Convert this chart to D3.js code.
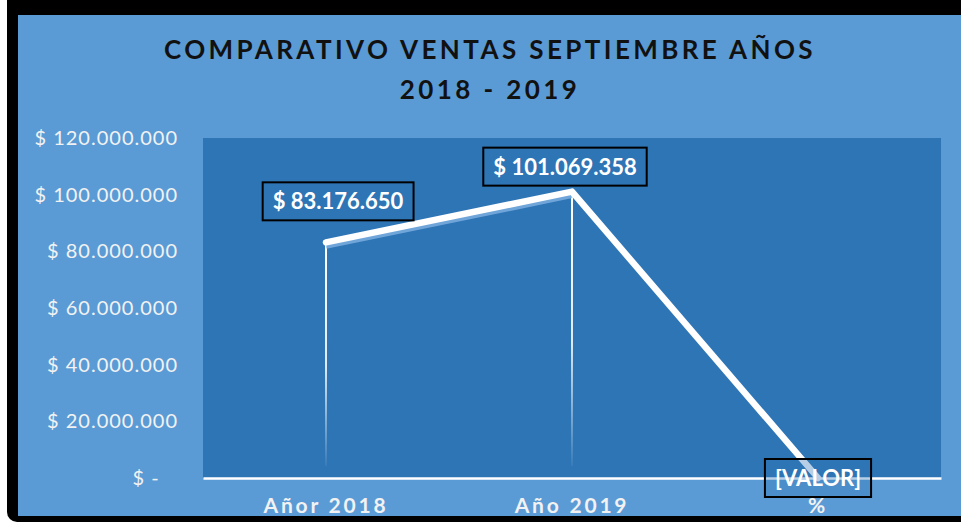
<!DOCTYPE html>
<html><head><meta charset="utf-8">
<script src="https://cdn.jsdelivr.net/npm/d3@7"></script>
<style>body{margin:0;background:#fff}svg{display:block}</style>
</head><body><svg id="c" width="961" height="522"></svg>
<script>
const categories = ["Añor 2018", "Año 2019", "%"];
const values = [83176650, 101069358, 0];
const labels = ["$ 83.176.650", "$ 101.069.358", "[VALOR]"];
const yTicks = [0, 20000000, 40000000, 60000000, 80000000, 100000000, 120000000];
const titleLines = ["COMPARATIVO VENTAS SEPTIEMBRE AÑOS", "2018 - 2019"];

const svg = d3.select("#c");
const W = 961, H = 522;
svg.append("rect").attr("width", W).attr("height", H).attr("fill", "#fff");
svg.append("rect").attr("x", 7).attr("y", -10).attr("width", W + 20).attr("height", H + 10).attr("rx", 10).attr("fill", "#000");
svg.append("rect").attr("x", 18).attr("y", 15).attr("width", W).attr("height", 501).attr("fill", "#5B9BD5");

const m = {left: 203, right: 941, top: 138, bottom: 478};
svg.append("rect").attr("x", m.left).attr("y", m.top).attr("width", m.right - m.left).attr("height", m.bottom - m.top).attr("fill", "#2E75B6");

const x = d3.scaleBand().domain(categories).range([m.left, m.right]);
const y = d3.scaleLinear().domain([0, 120000000]).range([m.bottom, m.top]);

// title
const title = svg.append("text").attr("text-anchor", "middle").attr("fill", "#111")
  .style("font-family", "Lato, 'Open Sans', sans-serif").style("font-size", "26px").style("font-weight", "bold").style("letter-spacing", "3.4px");
titleLines.forEach((t, i) => title.append("tspan").attr("x", 490).attr("y", 59 + i * 40).text(t));

// y axis
const fmt = v => v === 0 ? "$ -   " : "$ " + d3.format(",")(v).replace(/,/g, ".");
const yAxis = d3.axisLeft(y).tickValues(yTicks).tickFormat(fmt).tickSize(0).tickPadding(0);
const ga = svg.append("g").attr("transform", `translate(178,0)`).call(yAxis);
ga.select(".domain").remove();
ga.selectAll("text").attr("fill", "#F2F2F2").style("font-family", "Lato, sans-serif")
  .style("font-size", "20px").style("letter-spacing", "1px").style("white-space", "pre").attr("xml:space", "preserve");

// x axis
const xAxis = d3.axisBottom(x).tickSize(0).tickPadding(0);
const gx = svg.append("g").attr("transform", `translate(0,${m.bottom})`).call(xAxis);
gx.select(".domain").attr("stroke", "#fff").attr("stroke-width", 2.5);
gx.selectAll("text").attr("y", 20).attr("fill", "#F2F2F2").style("font-family", "Lato, sans-serif")
  .style("font-size", "21px").style("font-weight", "bold").style("letter-spacing", "2.8px");

// drop line gradient
const defs = svg.append("defs");
const grad = defs.append("linearGradient").attr("id", "fade").attr("x1", 0).attr("y1", 0).attr("x2", 0).attr("y2", 1);
grad.append("stop").attr("offset", "0%").attr("stop-color", "#fff").attr("stop-opacity", 1);
grad.append("stop").attr("offset", "55%").attr("stop-color", "#fff").attr("stop-opacity", 0.85);
grad.append("stop").attr("offset", "100%").attr("stop-color", "#fff").attr("stop-opacity", 0.05);

const pts = categories.map((c, i) => ({c, v: values[i], l: labels[i]}));
const cx = d => x(d.c) + x.bandwidth() / 2;
pts.filter(d => d.v > 0).forEach(d => {
  svg.append("rect").attr("x", cx(d) - 1).attr("y", y(d.v)).attr("width", 2)
    .attr("height", m.bottom - 12 - y(d.v)).attr("fill", "url(#fade)");
});

const line = d3.line().x(cx).y(d => y(d.v));
svg.append("path").datum(pts.slice(0, 2)).attr("d", line).attr("fill", "none").attr("stroke", "#7FB2E2")
  .attr("stroke-width", 5).attr("transform", "translate(0,4)").attr("opacity", 0.8);
svg.append("path").datum(pts).attr("d", line).attr("fill", "none").attr("stroke", "#fff")
  .attr("stroke-width", 6.5).attr("stroke-linecap", "round").attr("stroke-linejoin", "round");

// data labels
const offs = [[12, -41], [-7, -25], [0, 0]];
pts.forEach((d, i) => {
  const g = svg.append("g").attr("transform", `translate(${cx(d) + offs[i][0]},${y(d.v) + offs[i][1]})`);
  const t = g.append("text").attr("text-anchor", "middle").attr("dy", "0.36em").attr("fill", "#fff")
    .style("font-family", "Lato, sans-serif").style("font-size", "22px").style("font-weight", "bold").text(d.l);
  const bb = t.node().getBBox();
  g.insert("rect", "text").attr("x", bb.x - 10).attr("y", -19).attr("width", bb.width + 20).attr("height", 38)
    .attr("fill", i === 2 ? "rgba(46,117,182,0.35)" : "#2E75B6").attr("stroke", "#000").attr("stroke-width", 2);
});
</script></body></html>
